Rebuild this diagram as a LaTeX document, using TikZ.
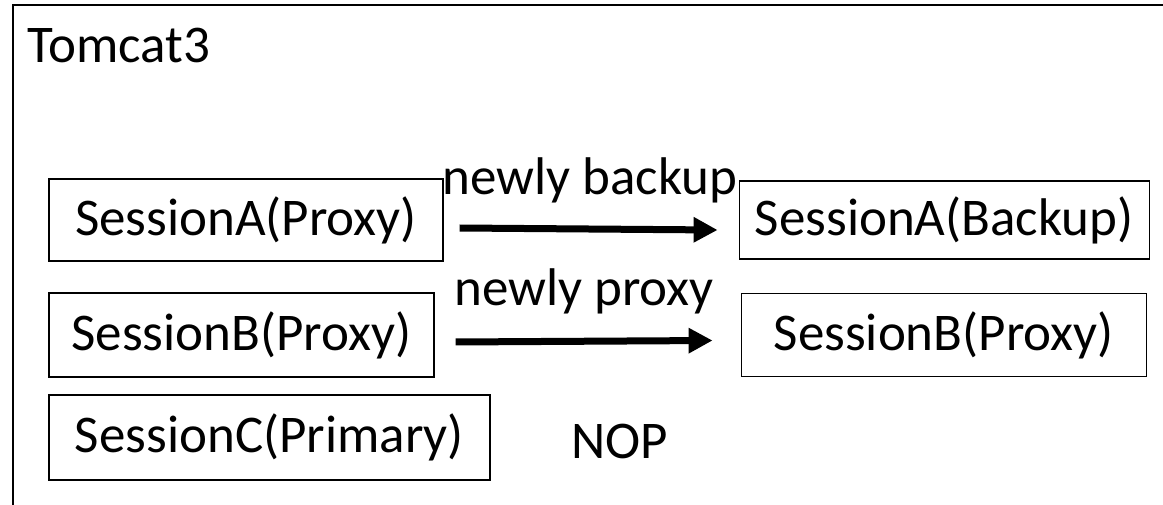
\documentclass[tikz,border=0pt]{standalone}
\usepackage{fontspec}
\setmainfont{Carlito}
\usetikzlibrary{positioning,arrows.meta}

\begin{document}
\begin{tikzpicture}[x=1pt, y=-1pt,
      sess/.style={draw, line width=1.2pt, inner sep=0pt, minimum height=82pt, font=\fontsize{53}{60}\selectfont},
      lbl/.style={inner sep=0pt, font=\fontsize{53}{60}\selectfont},
      arrow/.style={-{Triangle[length=24pt,width=24pt]}, line width=7pt}
    ]
      \useasboundingbox (0,0) rectangle (1163,505);
      % server frame, cut off at the right and bottom
      \draw[line width=2pt] (13,505) -- (13,5) -- (1163,5);
      \node[lbl, anchor=base west] (tomcat) at (27,63) {Tomcat3};
      \node[sess, minimum width=394pt] (aprox) at (246,220) {SessionA(Proxy)};
      \node[sess, minimum width=385pt, minimum height=84pt] (bprox) at (241.5,335) {SessionB(Proxy)};
      \node[sess, minimum width=441pt, minimum height=85pt] (cprim) at (269.5,437.5) {SessionC(Primary)};
      \node[sess, minimum width=410pt, minimum height=78pt, right=295pt of aprox] (aback) {SessionA(Backup)};
      \node[sess, minimum width=405pt, minimum height=83pt, right=306pt of bprox] (bnew) {SessionB(Proxy)};
      \node[lbl, anchor=base] (lblA) at (590,195) {newly backup};
      \node[lbl, anchor=base] (lblB) at (584,306) {newly proxy};
      \node[lbl, anchor=base] (nop) at (620,458) {NOP};
      \draw[arrow] ([xshift=16pt,yshift=-8pt]aprox.east) -- ([xshift=-21pt,yshift=-10pt]aback.west);
      \draw[arrow] ([xshift=21pt,yshift=-7pt]bprox.east) -- ([xshift=-28pt,yshift=-5.5pt]bnew.west);
    \end{tikzpicture}
\end{document}
